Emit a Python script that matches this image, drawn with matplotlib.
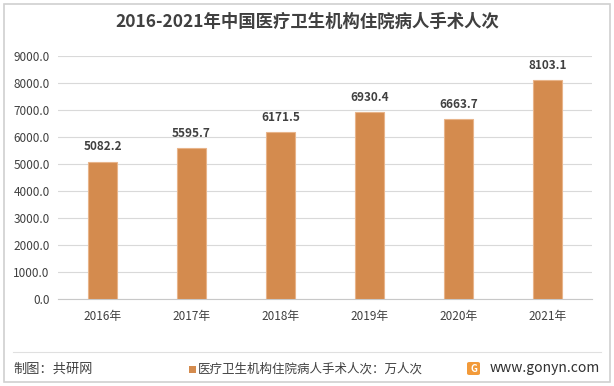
import matplotlib
matplotlib.use("Agg")
import matplotlib.pyplot as plt
from matplotlib.patches import Rectangle, FancyBboxPatch
import numpy as np

plt.rcParams['font.family'] = ['Noto Sans CJK SC', 'DejaVu Sans']

years = ["2016年", "2017年", "2018年", "2019年", "2020年", "2021年"]
values = [5082.2, 5595.7, 6171.5, 6930.4, 6663.7, 8103.1]
yticks = [0, 1000, 2000, 3000, 4000, 5000, 6000, 7000, 8000, 9000]
title = "2016-2021年中国医疗卫生机构住院病人手术人次"
legend_label = "医疗卫生机构住院病人手术人次：万人次"
source = "制图：共研网"
site = "www.gonyn.com"

W, H = 614, 386
fig = plt.figure(figsize=(W/100, H/100), dpi=100)
fig.patch.set_facecolor("white")

# outer border
fig.patches.append(Rectangle((4/W, 4/H), (W-8)/W, (H-8)/H, transform=fig.transFigure,
                             fill=False, edgecolor="#d0d0d0", linewidth=1.2))

ax = fig.add_axes([58/W, 1-299/H, (592-58)/W, (299-56)/H])
x = np.arange(len(years))
bar_color = "#D48B4E"
ax.bar(x, values, width=0.32, color=bar_color, edgecolor="#E8B48A", linewidth=0.8, zorder=3)
ax.set_xlim(-0.5, len(years)-0.5)
ax.set_ylim(0, 9000)
ax.set_yticks(yticks)
ax.set_yticklabels([f"{v:.1f}" for v in yticks], fontsize=8.5, color="#404040", fontweight="medium")
ax.tick_params(axis='y', length=0, pad=6)
ax.set_xticks(x)
ax.set_xticklabels(years, fontsize=8.5, color="#404040", fontweight="medium")
ax.tick_params(axis='x', length=0, pad=8)
ax.grid(axis='y', color="#d9d9d9", linewidth=0.8, zorder=0)
for s in ['top', 'right', 'left']:
    ax.spines[s].set_visible(False)
ax.spines['bottom'].set_color("#c8c8c8")
ax.spines['bottom'].set_linewidth(0.8)

for xi, v in zip(x, values):
    ax.annotate(f"{v:.1f}", (xi, v), xytext=(0, 6), textcoords="offset points",
                ha="center", va="bottom", fontsize=8.5, fontweight="bold", color="#404040")

fig.text(0.5, 1-22/H, title, ha="center", va="center", fontsize=12.5, fontweight="bold", color="#404040")

# footer separator
fig.add_artist(plt.Line2D([13/W, 601/W], [1-352/H, 1-352/H], transform=fig.transFigure,
                          color="#e0e0e0", linewidth=0.8))
fig.text(13/W, 1-369/H, source, ha="left", va="center", fontsize=9.5, color="#404040", fontweight="medium")
fig.patches.append(Rectangle((189/W, 1-373/H), 7/W, 7/H, transform=fig.transFigure,
                             facecolor=bar_color, edgecolor="none"))
fig.text(198/W, 1-369/H, legend_label, ha="left", va="center", fontsize=9, color="#404040")
fig.patches.append(FancyBboxPatch((467/W, 1-375/H), 13/W, 13/H, transform=fig.transFigure,
                                  boxstyle="round,pad=0,rounding_size=0.004",
                                  facecolor="#F29A3A", edgecolor="none"))
fig.text(473.5/W, 1-368.5/H, "G", ha="center", va="center", fontsize=7, fontweight="bold", color="white")
fig.text(600/W, 1-368/H, site, ha="right", va="center", fontsize=10, color="#303030")

fig.savefig("out.png", dpi=100)
